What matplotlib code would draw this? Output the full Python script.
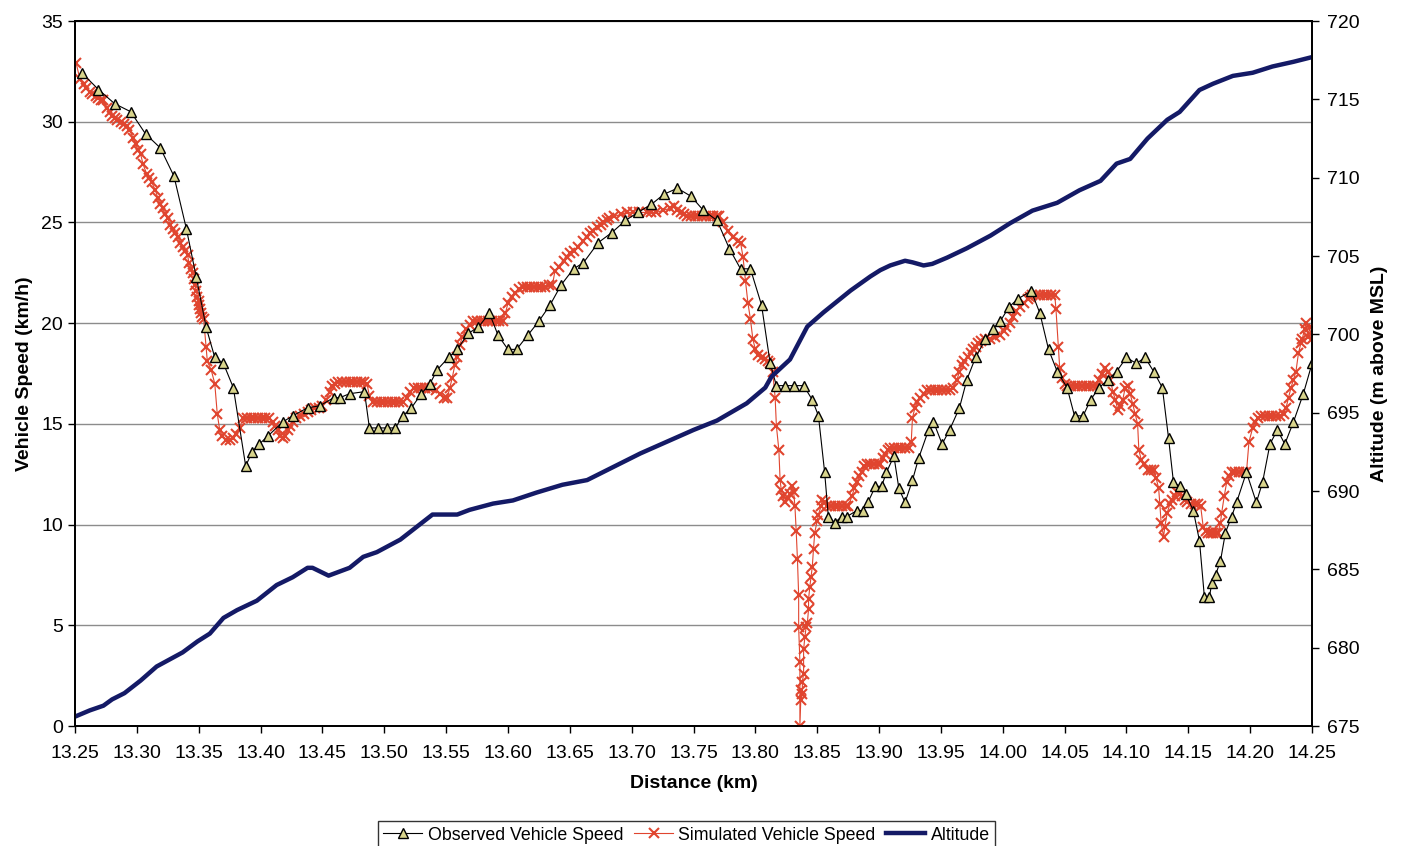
import matplotlib
matplotlib.use("Agg")
import matplotlib.pyplot as plt
from matplotlib.ticker import MultipleLocator, FormatStrFormatter

plt.rcParams["font.family"] = ["Liberation Sans", "DejaVu Sans"]

# ---------------- DATA ----------------
obs_dist = [13.256, 13.269, 13.282, 13.295, 13.307, 13.319, 13.330, 13.340, 13.348, 13.356,
            13.363, 13.370, 13.378, 13.388, 13.393, 13.399, 13.406, 13.418, 13.426, 13.438,
            13.448, 13.459, 13.464, 13.472, 13.484, 13.488, 13.495, 13.502, 13.509, 13.515,
            13.522, 13.530, 13.537, 13.543, 13.552, 13.559, 13.568, 13.576, 13.585, 13.592,
            13.600, 13.607, 13.616, 13.625, 13.634, 13.643, 13.653, 13.661, 13.673, 13.684,
            13.695, 13.705, 13.716, 13.726, 13.737, 13.748, 13.758, 13.769, 13.779, 13.788,
            13.796, 13.805, 13.812, 13.817, 13.824, 13.831, 13.839, 13.846, 13.851, 13.856,
            13.859, 13.864, 13.870, 13.874, 13.882, 13.887, 13.891, 13.897, 13.902, 13.906,
            13.912, 13.916, 13.921, 13.927, 13.932, 13.940, 13.944, 13.951, 13.957, 13.965,
            13.971, 13.978, 13.986, 13.992, 13.998, 14.005, 14.012, 14.023, 14.030, 14.037,
            14.044, 14.052, 14.058, 14.065, 14.071, 14.078, 14.085, 14.092, 14.100, 14.108,
            14.115, 14.122, 14.129, 14.134, 14.138, 14.143, 14.148, 14.154, 14.159, 14.163,
            14.167, 14.169, 14.172, 14.176, 14.180, 14.185, 14.189, 14.197, 14.205, 14.210,
            14.216, 14.222, 14.228, 14.235, 14.243, 14.250]
obs_speed = [32.4, 31.6, 30.9, 30.5, 29.4, 28.7, 27.3, 24.7, 22.3, 19.8,
             18.3, 18.0, 16.8, 12.9, 13.6, 14.0, 14.4, 15.1, 15.4, 15.8,
             15.9, 16.3, 16.3, 16.5, 16.6, 14.8, 14.8, 14.8, 14.8, 15.4,
             15.8, 16.5, 17.0, 17.7, 18.3, 18.7, 19.5, 19.8, 20.5, 19.4,
             18.7, 18.7, 19.4, 20.1, 20.9, 21.9, 22.7, 23.0, 24.0, 24.5,
             25.1, 25.5, 25.9, 26.4, 26.7, 26.3, 25.6, 25.1, 23.7, 22.7,
             22.7, 20.9, 18.0, 16.9, 16.9, 16.9, 16.9, 16.2, 15.4, 12.6,
             10.4, 10.1, 10.4, 10.4, 10.7, 10.7, 11.1, 11.9, 11.9, 12.6,
             13.4, 11.8, 11.1, 12.2, 13.3, 14.7, 15.1, 14.0, 14.7, 15.8,
             17.2, 18.3, 19.2, 19.7, 20.1, 20.8, 21.2, 21.6, 20.5, 18.7,
             17.6, 16.8, 15.4, 15.4, 16.2, 16.8, 17.2, 17.6, 18.3, 18.0,
             18.3, 17.6, 16.8, 14.3, 12.1, 11.9, 11.5, 10.7, 9.2, 6.4,
             6.4, 7.1, 7.5, 8.2, 9.6, 10.4, 11.1, 12.6, 11.1, 12.1,
             14.0, 14.7, 14.0, 15.1, 16.5, 18.0]

sim_dist = [13.251, 13.254, 13.257, 13.259, 13.262, 13.264, 13.267, 13.269, 13.271, 13.273,
            13.276, 13.278, 13.280, 13.282, 13.284, 13.287, 13.290, 13.292, 13.294, 13.297,
            13.299, 13.301, 13.303, 13.305, 13.308, 13.310, 13.312, 13.315, 13.317, 13.319,
            13.321, 13.323, 13.325, 13.327, 13.329, 13.331, 13.333, 13.335, 13.337, 13.339,
            13.341, 13.342, 13.344, 13.345, 13.346, 13.347, 13.348, 13.349, 13.350, 13.350,
            13.351, 13.352, 13.353, 13.354, 13.356, 13.357, 13.360, 13.363, 13.365, 13.367,
            13.369, 13.372, 13.375, 13.378, 13.380, 13.383, 13.386, 13.389, 13.392, 13.395,
            13.398, 13.401, 13.404, 13.407, 13.410, 13.412, 13.414, 13.416, 13.418, 13.420,
            13.422, 13.424, 13.426, 13.429, 13.432, 13.435, 13.438, 13.441, 13.444, 13.447,
            13.450, 13.453, 13.456, 13.458, 13.460, 13.463, 13.466, 13.469, 13.472, 13.475,
            13.478, 13.481, 13.484, 13.486, 13.488, 13.491, 13.494, 13.497, 13.500, 13.503,
            13.506, 13.509, 13.512, 13.515, 13.518, 13.521, 13.524, 13.527, 13.530, 13.533,
            13.536, 13.539, 13.542, 13.545, 13.548, 13.551, 13.553, 13.555, 13.557, 13.559,
            13.561, 13.563, 13.566, 13.569, 13.572, 13.575, 13.578, 13.581, 13.584, 13.587,
            13.590, 13.593, 13.596, 13.598, 13.600, 13.603, 13.606, 13.609, 13.612, 13.615,
            13.618, 13.621, 13.624, 13.627, 13.630, 13.633, 13.636, 13.638, 13.641, 13.645,
            13.648, 13.650, 13.653, 13.657, 13.661, 13.664, 13.666, 13.669, 13.672, 13.675,
            13.677, 13.680, 13.682, 13.686, 13.691, 13.696, 13.701, 13.706, 13.712, 13.716,
            13.720, 13.725, 13.731, 13.734, 13.737, 13.740, 13.742, 13.745, 13.748, 13.751,
            13.754, 13.757, 13.760, 13.763, 13.766, 13.769, 13.771, 13.774, 13.778, 13.782,
            13.786, 13.788, 13.790, 13.792, 13.794, 13.796, 13.798, 13.800, 13.802, 13.805,
            13.808, 13.810, 13.812, 13.814, 13.816, 13.817, 13.819, 13.820, 13.821, 13.822,
            13.824, 13.826, 13.828, 13.830, 13.831, 13.832, 13.833, 13.834, 13.835, 13.835,
            13.836, 13.836, 13.837, 13.837, 13.838, 13.838, 13.839, 13.839, 13.840, 13.841,
            13.842, 13.843, 13.843, 13.844, 13.845, 13.846, 13.847, 13.848, 13.850, 13.851,
            13.853, 13.854, 13.856, 13.858, 13.861, 13.864, 13.867, 13.870, 13.873, 13.875,
            13.878, 13.880, 13.882, 13.884, 13.886, 13.888, 13.890, 13.893, 13.896, 13.899,
            13.901, 13.903, 13.905, 13.907, 13.909, 13.912, 13.915, 13.918, 13.921, 13.924,
            13.926, 13.927, 13.929, 13.931, 13.933, 13.936, 13.939, 13.942, 13.945, 13.948,
            13.951, 13.954, 13.957, 13.960, 13.963, 13.965, 13.967, 13.969, 13.972, 13.974,
            13.976, 13.978, 13.980, 13.982, 13.986, 13.990, 13.994, 13.998, 14.001, 14.003,
            14.006, 14.008, 14.011, 14.014, 14.017, 14.020, 14.022, 14.024, 14.027, 14.030,
            14.033, 14.036, 14.039, 14.042, 14.043, 14.045, 14.046, 14.048, 14.050, 14.052,
            14.055, 14.058, 14.061, 14.064, 14.067, 14.070, 14.073, 14.076, 14.078, 14.080,
            14.083, 14.085, 14.087, 14.089, 14.091, 14.093, 14.095, 14.097, 14.099, 14.101,
            14.103, 14.105, 14.107, 14.109, 14.110, 14.112, 14.114, 14.117, 14.120, 14.122,
            14.124, 14.126, 14.127, 14.128, 14.130, 14.131, 14.133, 14.135, 14.137, 14.139,
            14.141, 14.143, 14.145, 14.147, 14.149, 14.152, 14.155, 14.158, 14.160, 14.162,
            14.164, 14.166, 14.168, 14.170, 14.172, 14.174, 14.176, 14.177, 14.179, 14.181,
            14.183, 14.185, 14.188, 14.191, 14.194, 14.197, 14.199, 14.202, 14.204, 14.206,
            14.209, 14.212, 14.215, 14.218, 14.221, 14.224, 14.227, 14.229, 14.231, 14.233,
            14.235, 14.237, 14.239, 14.241, 14.242, 14.244, 14.245, 14.247, 14.248, 14.250]
sim_speed = [32.9, 32.1, 31.9, 31.7, 31.5, 31.4, 31.3, 31.2, 31.1, 31.1,
             30.7, 30.5, 30.3, 30.2, 30.1, 30.0, 29.9, 29.8, 29.6, 29.2,
             28.9, 28.6, 28.4, 27.9, 27.4, 27.2, 27.0, 26.6, 26.2, 25.9,
             25.7, 25.4, 25.2, 24.9, 24.7, 24.5, 24.3, 24.0, 23.8, 23.6,
             23.4, 23.0, 22.7, 22.5, 22.2, 21.9, 21.6, 21.3, 21.1, 20.9,
             20.7, 20.5, 20.3, 20.2, 18.8, 18.1, 17.7, 17.0, 15.5, 14.7,
             14.4, 14.2, 14.2, 14.3, 14.5, 14.8, 15.3, 15.3, 15.3, 15.3,
             15.3, 15.3, 15.3, 15.3, 15.1, 14.9, 14.7, 14.4, 14.3, 14.4,
             14.7, 14.9, 15.1, 15.3, 15.4, 15.5, 15.6, 15.7, 15.8, 15.8,
             15.9, 16.2, 16.6, 16.9, 17.0, 17.1, 17.1, 17.1, 17.1, 17.1,
             17.1, 17.1, 17.1, 17.0, 16.4, 16.1, 16.1, 16.1, 16.1, 16.1,
             16.1, 16.1, 16.1, 16.1, 16.3, 16.6, 16.8, 16.8, 16.8, 16.8,
             16.8, 16.8, 16.7, 16.5, 16.3, 16.3, 16.8, 17.3, 17.9, 18.3,
             18.9, 19.3, 19.7, 19.9, 20.1, 20.1, 20.1, 20.1, 20.1, 20.1,
             20.1, 20.1, 20.1, 20.5, 21.0, 21.3, 21.5, 21.7, 21.8, 21.8,
             21.8, 21.8, 21.8, 21.8, 21.8, 21.9, 21.9, 22.6, 22.8, 23.1,
             23.3, 23.5, 23.6, 23.8, 24.1, 24.3, 24.5, 24.6, 24.8, 24.9,
             25.0, 25.1, 25.2, 25.3, 25.4, 25.5, 25.5, 25.5, 25.5, 25.5,
             25.5, 25.6, 25.7, 25.8, 25.6, 25.5, 25.4, 25.3, 25.3, 25.3,
             25.3, 25.3, 25.3, 25.3, 25.3, 25.3, 25.3, 25.0, 24.6, 24.3,
             24.1, 24.0, 23.3, 22.1, 21.0, 20.2, 19.2, 18.7, 18.4, 18.3,
             18.2, 18.1, 18.0, 17.6, 16.3, 14.9, 13.7, 12.2, 11.7, 11.4,
             11.1, 11.3, 11.5, 11.9, 11.6, 10.9, 9.7, 8.3, 6.5, 4.9,
             3.2, 0.0, 1.8, 1.3, 1.6, 2.2, 2.6, 3.8, 4.4, 4.9,
             5.1, 5.8, 6.3, 6.9, 7.4, 7.9, 8.8, 9.6, 10.2, 10.5,
             10.9, 11.2, 11.1, 10.9, 10.9, 10.9, 10.9, 10.9, 10.9, 10.9,
             11.4, 11.8, 12.1, 12.4, 12.6, 12.9, 13.0, 13.0, 13.0, 13.0,
             13.0, 13.3, 13.5, 13.7, 13.8, 13.8, 13.8, 13.8, 13.8, 13.8,
             14.1, 15.3, 15.8, 16.1, 16.3, 16.5, 16.7, 16.7, 16.7, 16.7,
             16.7, 16.7, 16.7, 16.8, 17.2, 17.6, 17.9, 18.1, 18.3, 18.5,
             18.7, 18.8, 19.0, 19.1, 19.2, 19.2, 19.3, 19.4, 19.6, 19.8,
             20.0, 20.3, 20.6, 20.8, 21.0, 21.2, 21.3, 21.4, 21.4, 21.4,
             21.4, 21.4, 21.4, 21.4, 20.7, 18.8, 17.8, 17.3, 17.0, 16.9,
             16.9, 16.9, 16.9, 16.9, 16.9, 16.9, 16.9, 16.9, 17.2, 17.5,
             17.8, 17.6, 17.2, 16.6, 16.2, 15.7, 15.9, 16.2, 16.8, 16.9,
             16.5, 16.0, 15.5, 15.0, 13.7, 13.2, 13.0, 12.7, 12.7, 12.7,
             12.3, 11.8, 11.0, 10.1, 9.4, 9.9, 10.6, 11.0, 11.2, 11.4,
             11.6, 11.5, 11.4, 11.2, 11.1, 11.0, 11.0, 11.0, 10.9, 9.9,
             9.7, 9.6, 9.6, 9.6, 9.6, 9.6, 10.1, 10.6, 11.4, 12.1,
             12.4, 12.6, 12.6, 12.6, 12.6, 12.6, 14.1, 14.8, 15.1, 15.3,
             15.4, 15.4, 15.4, 15.4, 15.4, 15.4, 15.5, 15.8, 16.3, 16.8,
             17.2, 17.6, 18.5, 19.0, 19.2, 19.7, 20.0, 19.3, 19.8, 19.2]

alt_dist = [13.250, 13.262, 13.273, 13.280, 13.290, 13.303, 13.316, 13.337, 13.349, 13.359,
            13.370, 13.381, 13.397, 13.413, 13.426, 13.438, 13.442, 13.455, 13.472, 13.483,
            13.494, 13.513, 13.526, 13.539, 13.559, 13.569, 13.588, 13.604, 13.623, 13.644,
            13.664, 13.707, 13.750, 13.769, 13.793, 13.808, 13.813, 13.828, 13.842, 13.855,
            13.877, 13.893, 13.901, 13.909, 13.921, 13.927, 13.936, 13.943, 13.955, 13.971,
            13.990, 14.006, 14.024, 14.044, 14.062, 14.079, 14.092, 14.103, 14.117, 14.133,
            14.143, 14.159, 14.170, 14.186, 14.202, 14.218, 14.235, 14.250]
alt_m = [675.6, 676.0, 676.3, 676.7, 677.1, 677.9, 678.8, 679.7, 680.4, 680.9,
         681.9, 682.4, 683.0, 684.0, 684.5, 685.1, 685.1, 684.6, 685.1, 685.8,
         686.1, 686.9, 687.7, 688.5, 688.5, 688.8, 689.2, 689.4, 689.9, 690.4,
         690.7, 692.4, 693.9, 694.5, 695.6, 696.6, 697.3, 698.4, 700.5, 701.4,
         702.8, 703.7, 704.1, 704.4, 704.7, 704.6, 704.4, 704.5, 704.9, 705.5,
         706.3, 707.1, 707.9, 708.4, 709.2, 709.8, 710.9, 711.2, 712.5, 713.7,
         714.2, 715.6, 716.0, 716.5, 716.7, 717.1, 717.4, 717.7]

# ---------------- PLOT ----------------
fig = plt.figure(figsize=(14.07, 8.46), dpi=100)
ax = fig.add_axes([0.0533, 0.1418, 0.8792, 0.8333])
ax2 = ax.twinx()

ax.plot(sim_dist, sim_speed, color="#e0452f", lw=0.8, marker="x", ms=6.5, mew=1.5,
        label="Simulated Vehicle Speed", zorder=3)
ax.plot(obs_dist, obs_speed, color="black", lw=0.8, marker="^", ms=6.5, mew=1.0,
        mfc="#d8d48c", mec="black", label="Observed Vehicle Speed", zorder=4)
ax2.plot(alt_dist, alt_m, color="#141a66", lw=3.2, label="Altitude")

ax.set_xlim(13.25, 14.25)
ax.set_ylim(0, 35)
ax2.set_ylim(675, 720)
ax.xaxis.set_major_locator(MultipleLocator(0.05))
ax.xaxis.set_major_formatter(FormatStrFormatter("%.2f"))
ax.yaxis.set_major_locator(MultipleLocator(5))
ax2.yaxis.set_major_locator(MultipleLocator(5))

ax.grid(axis="y", color="#8c8c8c", lw=1.0)
ax.set_axisbelow(True)

for a in (ax, ax2):
    for s in a.spines.values():
        s.set_color("black")
        s.set_linewidth(1.3)
    a.tick_params(direction="out", length=5, width=1, labelsize=14, colors="black")
ax.tick_params(axis="x", pad=9)
ax2.tick_params(axis="y", pad=6)

ax.set_xlabel("Distance (km)", fontsize=14, fontweight="bold", labelpad=9)
ax.set_ylabel("Vehicle Speed (km/h)", fontsize=14, fontweight="bold", labelpad=6)
ax2.set_ylabel("Altitude (m above MSL)", fontsize=14, fontweight="bold", labelpad=8)

h1, l1 = ax.get_legend_handles_labels()
h2, l2 = ax2.get_legend_handles_labels()
handles = [h1[1], h1[0], h2[0]]
labels = [l1[1], l1[0], l2[0]]
leg = fig.legend(handles, labels, loc="center", bbox_to_anchor=(0.488, 0.013), ncol=3,
                 fontsize=12.8, frameon=True, fancybox=False, edgecolor="black",
                 handlelength=2.2, handletextpad=0.3, columnspacing=0.6,
                 borderpad=0.3, markerscale=1.0)
leg.get_frame().set_linewidth(1.0)

fig.savefig("out.png", dpi=100)
